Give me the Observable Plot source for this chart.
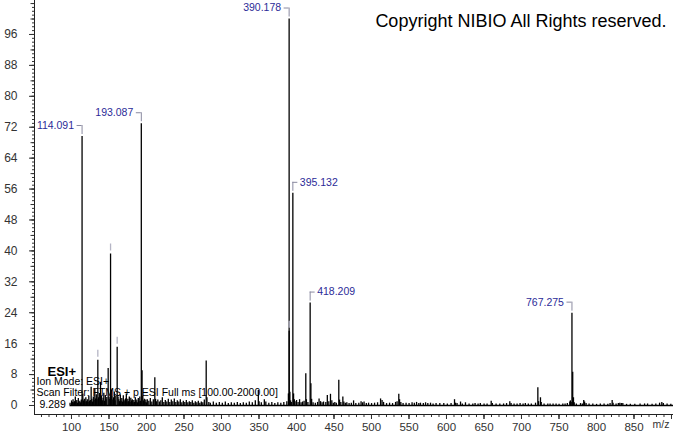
<!DOCTYPE html>
<html><head><meta charset="utf-8">
<script src="https://cdn.jsdelivr.net/npm/d3@7"></script>
<script src="https://cdn.jsdelivr.net/npm/@observablehq/plot@0.6"></script>
<style>body{margin:0;background:#fff}#chart svg{display:block}</style>
</head><body><div id="chart"></div>
<script>
// ---- data: centroid spectrum (m/z, relative abundance) ----
const mzValues = [98.1,100.1,101.1,102.1,103.0,104.1,105.1,106.1,107.1,108.1,109.1,110.1,111.1,112.1,113.1,114.091,115.1,116.1,117.1,118.1,119.1,120.1,121.1,122.1,123.1,124.1,125.1,126.2,127.1,128.1,129.1,130.1,131.1,132.1,133.1,134.1,135.1,136.1,137.1,138.7,139.1,140.1,141.1,142.1,143.1,144.1,145.1,146.1,147.1,148.9,150.1,151.1,152.07,153.07,154.1,155.1,156.1,157.1,158.1,159.1,160.9,162.1,163.1,164.1,165.1,166.1,167.1,168.1,169.1,170.1,171.1,172.1,173.1,174.1,175.1,176.1,177.1,178.1,179.1,180.1,181.1,182.1,183.1,184.1,185.1,186.1,187.1,188.1,189.1,190.1,191.1,192.1,193.087,194.09,195.1,196.1,197.1,198.1,199.1,200.1,201.1,203.1,205.1,207.1,209.1,211.1,212.1,213.1,215.1,217.1,219.1,221.1,223.1,225.1,227.1,229.1,231.1,233.1,235.1,237.1,239.1,241.1,243.1,245.1,247.1,249.1,251.1,253.1,255.1,257.1,259.1,261.1,263.1,265.1,267.1,269.1,271.1,273.1,275.1,277.1,279.6,280.6,283.1,285.1,289.1,293.1,297.1,301.1,305.1,309.1,313.1,317.1,321.1,325.1,329.1,333.1,337.1,341.1,345.1,349.1,350.1,353.1,357.1,359.1,363.1,367.1,371.1,375.1,379.1,383.1,387.1,389.2,390.178,390.25,391.18,392.2,393.1,395.132,396.1,397.1,398.1,400.1,402.1,404.1,406.1,408.1,410.1,412.4,413.2,415.2,418.209,419.2,420.2,422.1,425.1,428.1,430.1,432.1,434.1,436.1,439.1,441.1,443.1,445.3,447.1,449.1,451.1,453.1,456.4,457.4,459.1,461.8,463.1,465.1,467.1,470.1,473.1,476.1,479.1,483.1,486.1,488.1,490.1,493.1,496.1,500.1,504.1,508.1,512.1,514.1,516.1,520.1,524.1,528.1,532.1,534.1,536.4,537.4,539.1,542.1,546.1,550.1,554.1,557.1,560.1,563.1,565.3,569.1,572.1,575.1,578.7,582.1,586.1,591.1,596.4,601.1,606.1,610.7,612.1,614.1,618.7,621.1,625.3,630.1,635.1,638.1,642.1,645.1,650.1,654.1,659.6,661.1,666.1,671.1,676.1,680.1,684.4,686.1,690.1,694.1,698.1,702.1,705.1,709.1,713.1,718.7,721.8,722.8,725.3,726.3,730.1,735.1,738.1,742.1,746.1,750.1,755.1,758.1,761.1,764.4,765.2,766.2,767.275,768.28,769.3,770.3,773.1,778.7,781.1,783.0,784.1,786.1,790.1,795.1,800.1,805.1,810.1,815.1,818.1,820.9,822.1,826.1,829.1,831.1,833.1,835.1,840.1,845.1,851.1,858.1,864.1,868.1,874.1,879.1,884.1,887.1,889.1,894.1,899.1];
const intensityValues = [0.6,1.2,0.8,1.5,0.7,1.0,2.2,0.9,1.3,0.6,1.8,0.8,1.1,0.7,1.4,69.6,3.0,1.2,1.6,0.9,2.0,1.0,1.5,0.8,2.4,1.1,1.3,4.7,1.6,0.9,2.2,1.3,4.2,1.7,2.8,1.5,11.7,2.0,3.1,6.0,1.4,2.5,1.2,1.9,3.2,1.1,2.6,1.5,2.1,9.6,2.2,1.6,39.2,4.0,2.3,1.4,2.0,3.5,1.2,2.4,15.1,2.2,1.5,1.0,2.7,1.1,1.8,0.9,2.5,1.4,1.0,1.7,3.0,0.9,1.6,1.0,2.2,0.8,1.9,1.2,1.5,0.7,1.3,0.8,2.0,0.9,1.4,0.7,1.8,1.0,2.2,1.1,72.9,9.0,2.4,1.2,1.6,0.8,1.4,0.7,1.5,1.1,1.8,0.9,1.5,7.2,1.6,1.0,1.4,0.9,1.2,2.0,0.8,1.3,0.9,1.6,0.8,1.4,1.0,1.7,0.8,1.2,0.9,1.5,0.7,1.1,0.8,1.3,0.7,1.0,0.8,1.2,0.6,1.0,0.7,1.1,0.6,0.9,0.7,1.4,11.5,2.0,0.8,0.6,0.9,0.6,0.8,0.6,0.9,0.5,0.7,0.6,0.8,0.5,0.7,0.6,0.9,0.7,1.2,3.9,1.0,0.7,1.5,0.9,0.6,0.8,0.5,0.7,0.6,0.8,1.0,3.0,100,19.2,3.4,1.2,0.8,54.9,3.0,1.5,1.0,1.3,0.8,1.5,0.7,0.9,1.1,8.2,1.5,0.8,26.5,5.6,1.6,0.7,0.6,0.8,1.7,1.0,0.7,0.9,0.8,2.6,1.0,2.9,1.2,0.6,0.8,0.6,6.5,1.4,0.8,2.2,0.9,0.6,0.7,0.5,0.6,1.2,0.5,0.6,1.0,0.7,0.9,0.5,0.6,0.5,0.6,0.7,1.7,1.3,0.8,0.5,0.6,0.5,0.8,1.0,2.9,1.5,0.8,0.5,0.6,0.5,0.7,0.6,0.8,0.5,0.6,0.5,0.7,0.5,0.6,0.4,0.5,0.5,0.5,0.4,0.5,1.5,0.6,0.5,0.9,0.4,0.7,0.4,0.4,0.5,0.4,0.5,0.4,0.4,1.1,0.5,0.4,0.4,0.4,0.5,1.0,0.5,0.4,0.4,0.5,0.4,0.5,0.4,0.4,0.6,4.6,1.0,2.0,0.8,0.4,0.4,0.4,0.4,0.4,0.3,0.4,0.4,0.5,0.9,1.2,0.8,23.9,8.6,2.0,0.7,0.4,0.5,0.4,1.3,0.9,0.5,0.4,0.4,0.3,0.4,0.4,0.3,0.5,1.3,0.6,0.4,0.5,0.6,0.5,0.5,0.3,0.3,0.3,0.4,0.4,0.4,0.3,0.4,0.6,0.8,0.5,0.4,0.3];

// labelled peaks (side: -1 label left of peak, +1 right)
const labelMz = [114.091, 193.087, 390.178, 395.132, 418.209, 767.275];
const labelIntensity = [69.6, 72.9, 100, 54.9, 26.5, 23.9];
const labelText = ["114.091", "193.087", "390.178", "395.132", "418.209", "767.275"];
const labelSide = [-1, -1, -1, 1, 1, -1];

// peaks with an annotation tick but no visible label
const markMz = [135.1, 152.07, 160.9, 390.25];
const markIntensity = [11.7, 39.2, 15.1, 19.2];

const yTickLabels = [0, 8, 16, 24, 32, 40, 48, 56, 64, 72, 80, 88, 96];
const xTickLabels = [100, 150, 200, 250, 300, 350, 400, 450, 500, 550, 600, 650, 700, 750, 800, 850];
const spectrumRange = [98, 903];

const infoLines = ["Ion Mode: ESI+", "Scan Filter: FTMS + p ESI Full ms [100.00-2000.00]"];
const rtText = "9.289";
const modeText = "ESI+";
const copyrightText = "Copyright NIBIO All Rights reserved.";

// ---- build ----
const peaks = mzValues.map((m, i) => ({mz: m, int: intensityValues[i]}));
const labels = labelMz.map((m, i) => ({mz: m, int: labelIntensity[i], text: labelText[i], side: labelSide[i]}));
const marks = markMz.map((m, i) => ({mz: m, int: markIntensity[i]}));

const W = 673, H = 433, mB = 19, mL = 34;
const yDomain = [-2.33, 104.79];
const xDomain = [50.67, 902.67];
const ppu = (H - mB) / (yDomain[1] - yDomain[0]);     // px per intensity unit
const ppx = (W - mL) / (xDomain[1] - xDomain[0]);     // px per m/z unit
const u = px => px / ppu;

const axisColor = "#333";
const labelColor = "#2b2b98";
const bracketColor = "#8a8aa0";
const blank = () => "";

const chart = Plot.plot({
  width: W, height: H,
  marginLeft: mL, marginRight: 0, marginTop: 0, marginBottom: mB,
  style: {fontFamily: "'Liberation Sans', Arial, sans-serif", fontSize: "12px", color: axisColor, background: "#fff", overflow: "visible"},
  x: {domain: xDomain, label: null},
  y: {domain: yDomain, label: null},
  marks: [
    // axes
    Plot.axisY(d3.range(0, 105, 1), {tickSize: 2, tickFormat: blank, label: null, stroke: axisColor}),
    Plot.axisY(d3.range(0, 105, 4), {tickSize: 3.5, tickFormat: blank, label: null, stroke: axisColor}),
    Plot.axisY(yTickLabels, {tickSize: 5, tickPadding: 12, fontSize: 12, label: null, stroke: axisColor, fill: axisColor}),
    Plot.axisX(d3.range(60, 903, 10), {tickSize: 3, tickFormat: blank, label: null, stroke: axisColor}),
    Plot.axisX(d3.range(100, 903, 50), {tickSize: 5, tickFormat: blank, label: null, stroke: axisColor}),
    Plot.axisX(xTickLabels, {tickSize: 5, tickPadding: 3, fontSize: 11.5, label: null, stroke: axisColor, fill: axisColor}),
    Plot.ruleX([xDomain[0]], {stroke: "#222"}),
    Plot.ruleY([yDomain[0]], {stroke: "#222"}),
    Plot.text(["m/z"], {frameAnchor: "bottom-right", dx: -4, dy: 13, textAnchor: "end", fontSize: 10.5, fill: axisColor}),
    // spectrum
    Plot.ruleY([0], {x1: spectrumRange[0], x2: spectrumRange[1], stroke: "#000", strokeWidth: 1.5}),
    Plot.ruleX(peaks, {x: "mz", y1: 0, y2: "int", stroke: "#000", strokeWidth: 1.3}),
    // unlabelled annotation ticks
    Plot.ruleX(marks, {x: "mz", y1: d => d.int + u(3), y2: d => d.int + u(10), stroke: "#b4b4c4", strokeWidth: 1.3}),
    // label brackets
    Plot.ruleX(labels, {x: "mz", y1: d => d.int + u(2), y2: d => d.int + u(11), stroke: bracketColor}),
    Plot.ruleY(labels, {y: d => d.int + u(11), x1: "mz", x2: d => d.mz + d.side * 5 / ppx, stroke: bracketColor}),
    Plot.text(labels.filter(d => d.side < 0), {x: "mz", y: "int", text: "text", dx: -8, dy: -11, textAnchor: "end", fontSize: 10.5, fill: labelColor}),
    Plot.text(labels.filter(d => d.side > 0), {x: "mz", y: "int", text: "text", dx: 7, dy: -11, textAnchor: "start", fontSize: 10.5, fill: labelColor}),
    // info texts
    Plot.text([modeText], {frameAnchor: "bottom-left", dx: 13, dy: -39, textAnchor: "start", fontSize: 13, fontWeight: "bold", fill: "#000"}),
    Plot.text([infoLines[0]], {frameAnchor: "bottom-left", dx: 2, dy: -30, textAnchor: "start", fontSize: 10.5, fill: "#000"}),
    Plot.text([infoLines[1]], {frameAnchor: "bottom-left", dx: 2, dy: -19, textAnchor: "start", fontSize: 10.5, fill: "#000"}),
    Plot.text([rtText], {frameAnchor: "bottom-left", dx: 5, dy: -7, textAnchor: "start", fontSize: 10.5, fill: "#000"}),
    Plot.text([copyrightText], {frameAnchor: "top-right", dx: -7, dy: 14, textAnchor: "end", fontSize: 18, fill: "#000"})
  ]
});
document.getElementById("chart").appendChild(chart);
</script>
</body></html>
